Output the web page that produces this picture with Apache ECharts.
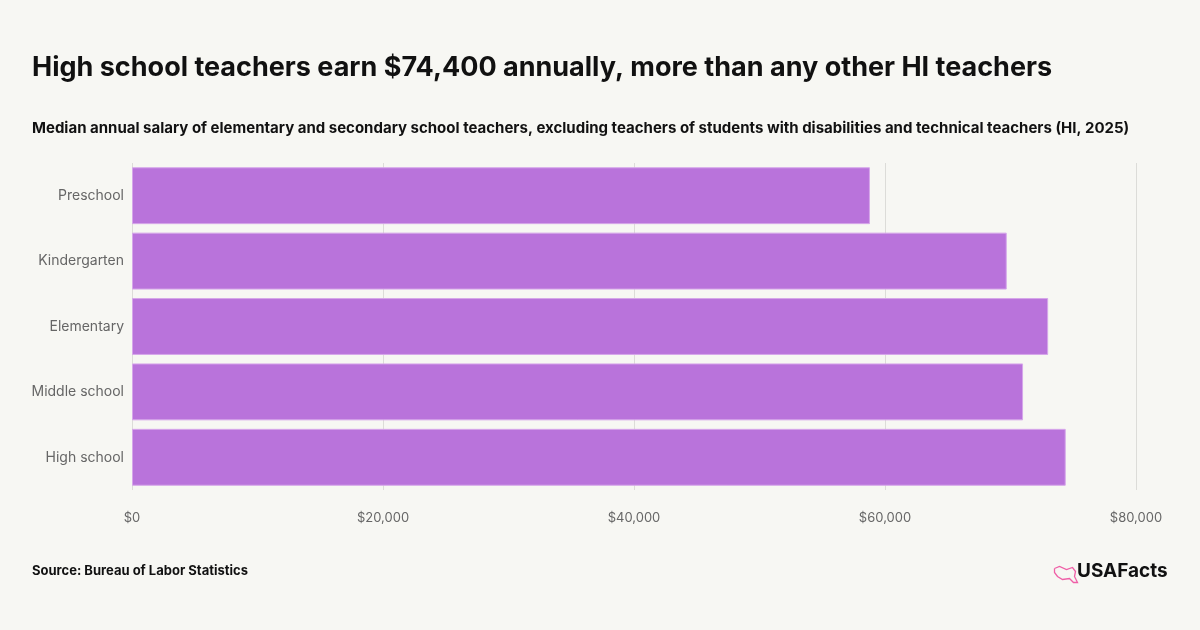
<!DOCTYPE html>
<html lang="en">
<head>
    <meta charset="UTF-8">
    <title>HI teacher salaries</title>
    <script src="https://cdn.jsdelivr.net/npm/echarts@6/dist/echarts.min.js"></script>
    <style>
        * {
            margin: 0;
            padding: 0
        }
        html, body {
            width: 100%;
            height: 100%;
            background: #f7f7f3;
        }
    </style>
</head>
<body>
<div id="chart" style="width: 1200px;height: 630px;"></div>
<script>
    // 数据
    var categories = ['Preschool', 'Kindergarten', 'Elementary', 'Middle school', 'High school'];
    var salaries = [58800, 69700, 73000, 71000, 74400];
    var xTicks = [0, 20000, 40000, 60000, 80000];

    var myChart = echarts.init(document.getElementById('chart'));

    var option = {
        backgroundColor: '#f7f7f3',
        textStyle: {fontFamily: 'Inter'},
        title: [
            {
                text: 'High school teachers earn $74,400 annually, more than any other HI teachers',
                left: 32,
                top: 54,
                padding: 0,
                textStyle: {fontSize: 27, fontWeight: 'bold', color: '#111'}
            },
            {
                text: 'Median annual salary of elementary and secondary school teachers, excluding teachers of students with disabilities and technical teachers (HI, 2025)',
                left: 32,
                top: 121,
                padding: 0,
                textStyle: {fontSize: 15, fontWeight: 'bold', color: '#111'}
            },
            {
                text: 'Source: Bureau of Labor Statistics',
                left: 32,
                top: 565,
                padding: 0,
                textStyle: {fontSize: 13, fontWeight: 'bold', color: '#111'}
            }
        ],
        grid: {
            left: 132,
            right: 64,
            top: 163,
            bottom: 140
        },
        xAxis: {
            type: 'value',
            min: 0,
            max: 80000,
            interval: 20000,
            axisLine: {show: false},
            axisTick: {show: false},
            splitLine: {lineStyle: {color: '#dcdcd8', width: 1}},
            axisLabel: {
                color: '#666',
                fontSize: 13,
                margin: 22,
                formatter: function (v) {
                    if (xTicks.indexOf(v) < 0) return '';
                    return '$' + v.toLocaleString('en-US');
                }
            }
        },
        yAxis: {
            type: 'category',
            inverse: true,
            data: categories,
            axisLine: {show: false},
            axisTick: {show: false},
            axisLabel: {color: '#666', fontSize: 14, margin: 8}
        },
        series: [
            {
                type: 'bar',
                data: salaries,
                barCategoryGap: '13%',
                itemStyle: {
                    color: '#b973db',
                    borderColor: '#d6a6ea',
                    borderWidth: 1
                }
            }
        ],
        graphic: [
            {
                type: 'polyline',
                left: 1052,
                top: 564,
                shape: {
                    points: [[0, 2], [5, 0], [12, 3], [18, 1], [21, 5], [20, 10], [23, 16], [19, 16], [15, 12], [8, 13], [3, 10], [0, 6], [0, 2]]
                },
                style: {fill: 'none', stroke: '#ef5fa7', lineWidth: 1.3}
            },
            {
                type: 'text',
                left: 1077,
                top: 562,
                style: {text: 'USAFacts', font: 'bold 19px Inter', fill: '#111'}
            }
        ]
    };

    myChart.setOption(option);
</script>
</body>
</html>
